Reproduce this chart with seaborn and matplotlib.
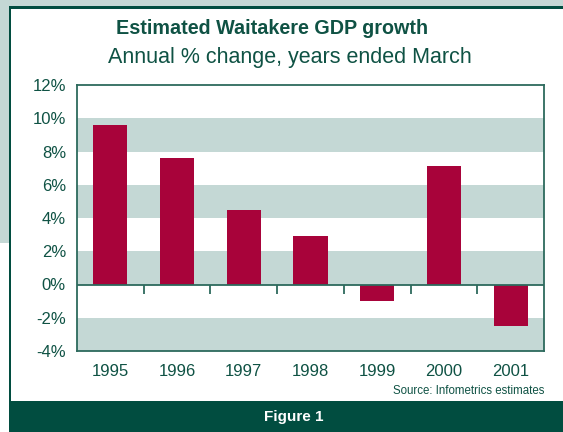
"""Estimated Waitakere GDP growth bar chart (Figure 1)."""

import matplotlib.pyplot as plt
import pandas as pd
import seaborn as sns
from matplotlib.patches import Rectangle

years = ["1995", "1996", "1997", "1998", "1999", "2000", "2001"]
growth = [9.6, 7.6, 4.5, 2.9, -1.0, 7.1, -2.5]
y_ticks = [-4, -2, 0, 2, 4, 6, 8, 10, 12]
y_labels = [f"{t}%" for t in y_ticks]
shaded_bands = [(8, 10), (4, 6), (0, 2), (-4, -2)]

BAR = "#a8033a"
BAND = "#c4d8d5"
DARK = "#014d40"
TEXT = "#0f5244"
SPINE = "#2d6a5d"

sns.set_style("white")
plt.rcParams["font.family"] = ["Liberation Sans", "DejaVu Sans"]

df = pd.DataFrame({"year": years, "growth": growth})

fig = plt.figure(figsize=(5.63, 4.32), dpi=100)
W, H = 563, 432


def px_rect(x0, y0, x1, y1, color):
    # rectangle in pixel coords (origin top-left)
    fig.patches.append(Rectangle((x0 / W, 1 - y1 / H), (x1 - x0) / W, (y1 - y0) / H,
                                 transform=fig.transFigure, facecolor=color,
                                 edgecolor="none", zorder=0))


# page background, frame and footer band
px_rect(0, 0, W, 243, BAND)
px_rect(9, 6, W, 9, DARK)
px_rect(9, 6, 11, 401, DARK)
px_rect(11, 9, W, 401, "white")
px_rect(9, 401, W, H, DARK)

ax = fig.add_axes([77 / W, 1 - 351 / H, 467 / W, 266 / H])
ax.set_zorder(2)

for lo, hi in shaded_bands:
    ax.axhspan(lo, hi, color=BAND, lw=0, zorder=0)

sns.barplot(data=df, x="year", y="growth", color=BAR, width=0.51,
            saturation=1, linewidth=0, edgecolor="none", ax=ax, zorder=2)

ax.axhline(0, color=SPINE, lw=1.3, zorder=3)
ax.vlines([i + 0.5 for i in range(len(years) - 1)], -0.55, 0,
          color=SPINE, lw=1.3, zorder=3)

ax.set_ylim(-4, 12)
ax.set_xlim(-0.5, len(years) - 0.5)
ax.set_yticks(y_ticks)
ax.set_yticklabels(y_labels)
ax.set_xlabel("")
ax.set_ylabel("")
ax.tick_params(axis="both", length=0, labelsize=12, labelcolor=TEXT)
ax.tick_params(axis="y", pad=8)
ax.tick_params(axis="x", pad=9)
for s in ax.spines.values():
    s.set_color(SPINE)
    s.set_linewidth(1.3)

fig.text(272 / W, 1 - 28 / H, "Estimated Waitakere GDP growth", ha="center",
         va="center", fontsize=14.2, fontweight="bold", color=TEXT)
fig.text(290 / W, 1 - 58 / H, "Annual % change, years ended March", ha="center",
         va="center", fontsize=15.5, color=TEXT)
fig.text(544 / W, 1 - 391 / H, "Source: Infometrics estimates", ha="right",
         va="center", fontsize=8.3, color=TEXT)
fig.text(294 / W, 1 - 417 / H, "Figure 1", ha="center", va="center",
         fontsize=11, fontweight="bold", color="white")

fig.savefig("out.png", dpi=100)
